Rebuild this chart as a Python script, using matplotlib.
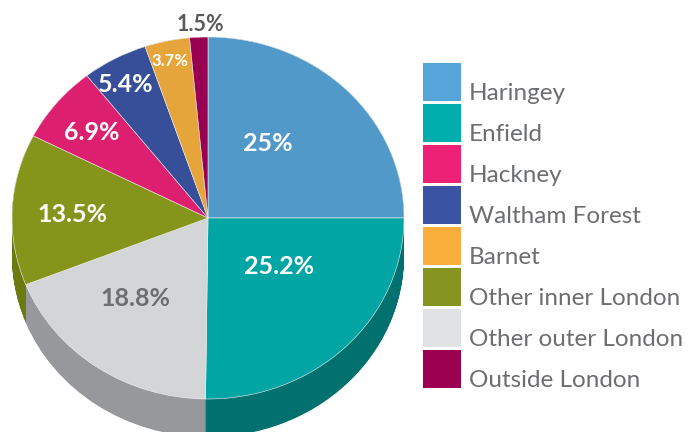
import numpy as np
import matplotlib.pyplot as plt
from matplotlib.patches import Rectangle

# slices in clockwise order from 12 o'clock
slices = ["Haringey", "Enfield", "Other outer London", "Other inner London",
          "Hackney", "Waltham Forest", "Barnet", "Outside London"]
shares = [25, 25.2, 18.8, 13.5, 6.9, 5.4, 3.7, 1.5]
pct_labels = ["25%", "25.2%", "18.8%", "13.5%", "6.9%", "5.4%", "3.7%", "1.5%"]

# legend order
legend_names = ["Haringey", "Enfield", "Hackney", "Waltham Forest", "Barnet",
                "Other inner London", "Other outer London", "Outside London"]

top_colors = ["#5199C9", "#00A5A4", "#D4D5D7", "#85941B",
              "#DC1F6E", "#374F99", "#E6A53A", "#9A0051"]
side_colors = ["#3A6E92", "#00716E", "#97989C", "#6C7A12",
               "#A0174F", "#283A70", "#A8782A", "#70003B"]
legend_colors = {"Haringey": "#56A5DA", "Enfield": "#00AEAD", "Hackney": "#ED2277",
                 "Waltham Forest": "#3B53A3", "Barnet": "#FAAF3C",
                 "Other inner London": "#86951F", "Other outer London": "#E1E2E3",
                 "Outside London": "#9C0050"}

# label placement relative to each wedge's middle angle
label_r = [0.51, 0.45, 0.58, 0.69, 0.76, 0.85, 0.89, 1.07]
label_dang = [8.4, 8.6, -5.4, 1.0, 1.0, 1.2, 0.6, -0.7]
label_col = ["white", "white", "#6D6E71", "white", "white", "white", "white", "#58595B"]
label_size = [18, 18, 18, 18, 18, 18, 12, 15.5]

W, H = 691, 432
CX, CY, RX, RY = 208, 218, 196, 181   # pie centre / radii in pixels
DEPTH = 38 / RY

fig = plt.figure(figsize=(W / 100, H / 100), dpi=100)
ax = fig.add_axes([0, 0, 1, 1])

# extruded side: stack of darker pies
for k in np.linspace(DEPTH, 0, 60):
    ax.pie(shares, colors=side_colors, startangle=90, counterclock=False,
           center=(0, -k), radius=1, wedgeprops=dict(linewidth=0))

wedges, _ = ax.pie(shares, colors=top_colors, startangle=90, counterclock=False,
                   center=(0, 0), radius=1,
                   wedgeprops=dict(linewidth=0.4, edgecolor="#F4F4F4"))

for w, lab, r, da, c, s in zip(wedges, pct_labels, label_r, label_dang, label_col, label_size):
    ang = np.deg2rad((w.theta1 + w.theta2) / 2 + da)
    ax.text(r * np.cos(ang), r * np.sin(ang), lab, ha="center", va="center",
            color=c, fontsize=s, fontweight="bold", family="Lato")

ax.set_aspect("auto")
ax.set_xlim(-CX / RX, (W - CX) / RX)
ax.set_ylim((CY - H) / RY, CY / RY)
ax.axis("off")

# legend drawn in pixel coordinates
lax = fig.add_axes([0, 0, 1, 1])
lax.set_xlim(0, W)
lax.set_ylim(H, 0)
lax.axis("off")
for i, name in enumerate(legend_names):
    top = 63 + i * 41
    lax.add_patch(Rectangle((423, top), 38, 38, color=legend_colors[name], lw=0))
    lax.text(469, top + 37, name, ha="left", va="baseline", color="#6D6E71",
             fontsize=17.5, family="Lato", fontweight="normal")

fig.savefig("out.png", dpi=100)
